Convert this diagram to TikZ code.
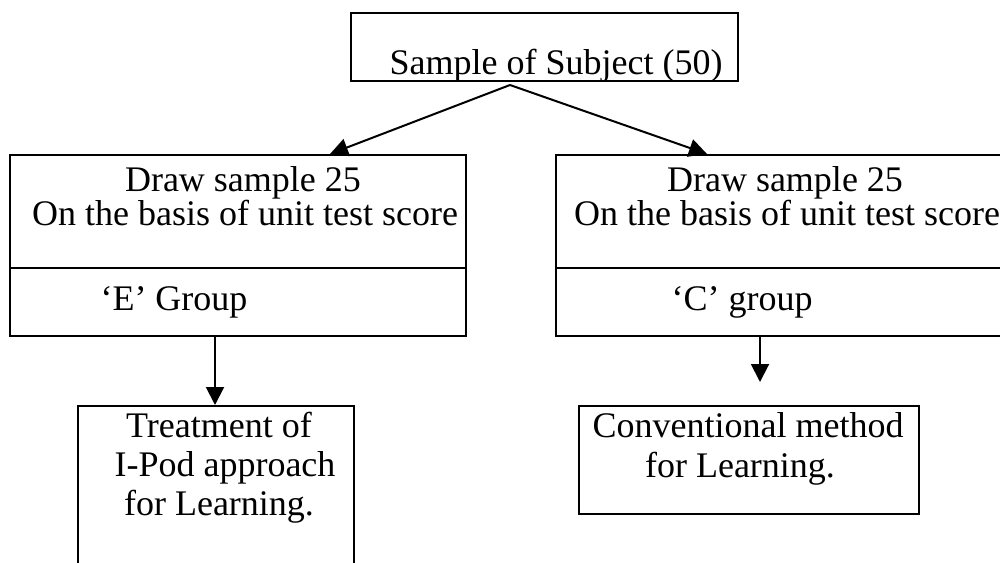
\documentclass[tikz,border=0pt]{standalone}
\usepackage{fontspec}
\setmainfont{Liberation Serif}
\usetikzlibrary{arrows.meta}
\begin{document}
\begin{tikzpicture}[x=0.5pt,y=-0.5pt,
  box/.style={draw, line width=0.9pt, inner sep=0pt, anchor=north west},
  lbl/.style={font=\fontsize{18}{19}\selectfont, inner sep=0pt, anchor=base},
  arr/.style={line width=1pt, -{Triangle[length=9pt,width=9pt]}}]
\clip (0,0) rectangle (1000,562);
% boxes
\node[box, minimum width=193.5pt, minimum height=34pt] (top) at (350,12) {};
\node[box, minimum width=228pt, minimum height=90.5pt] (left) at (9,154) {};
\node[box, minimum width=228pt, minimum height=90.5pt] (right) at (555,154) {};
\node[box, minimum width=138pt, minimum height=110pt] (treat) at (77,405) {};
\node[box, minimum width=170pt, minimum height=54pt] (conv) at (578,405) {};
% dividers
\draw[line width=0.9pt] (left.west |- 0,268) -- (left.east |- 0,268);
\draw[line width=0.9pt] (right.west |- 0,268) -- (right.east |- 0,268);
% texts
\node[lbl] (ttop) at (556,74) {Sample of Subject (50)};
\node[lbl] (l1) at (243,191) {Draw sample 25};
\node[lbl] (l2) at (245,225) {On the basis of unit test score};
\node[lbl] (l3) at (174,310) {`E' Group};
\node[lbl] (r1) at (785,191) {Draw sample 25};
\node[lbl] (r2) at (787,225) {On the basis of unit test score};
\node[lbl] (r3) at (742,310) {`C' group};
\node[lbl] (t1) at (219,437) {Treatment of};
\node[lbl] (t2) at (225,476) {I-Pod approach};
\node[lbl] (t3) at (219,515) {for Learning.};
\node[lbl] (c1) at (748,437) {Conventional method};
\node[lbl] (c2) at (740,477) {for Learning.};
% connectors
\coordinate (apex) at (510,85);
\coordinate (tipL) at (330,154);
\coordinate (tipR) at (707,154);
\draw[arr] (apex) -- (tipL);
\draw[arr] (apex) -- (tipR);
\coordinate (eS) at (215,335);
\coordinate (eT) at (215,405);
\draw[arr] (eS) -- (eT);
\coordinate (cS) at (760,335);
\coordinate (cT) at (760,382);
\draw[arr] (cS) -- (cT);
\end{tikzpicture}
\end{document}
